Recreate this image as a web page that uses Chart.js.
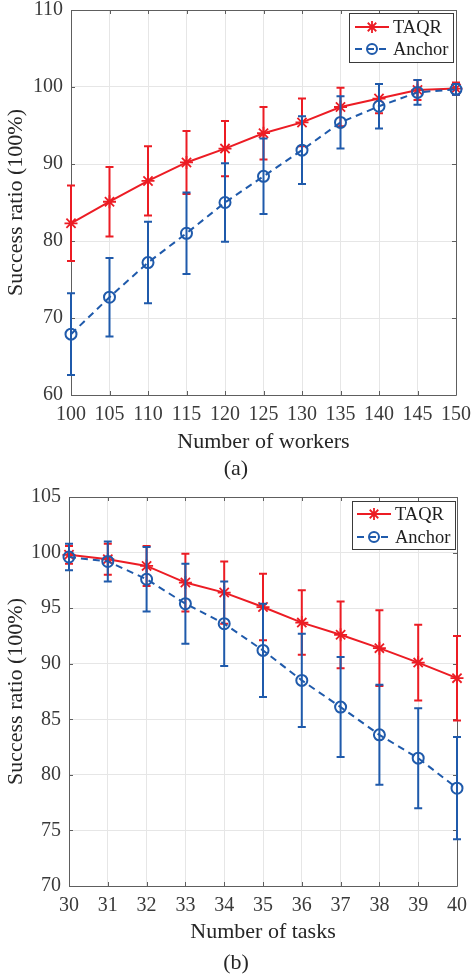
<!DOCTYPE html>
<html><head><meta charset="utf-8">
<script src="https://cdn.jsdelivr.net/npm/chart.js@4"></script>
<style>
html,body{margin:0;padding:0;background:#fff;width:472px;height:980px;overflow:hidden}
.wrap{position:absolute;left:0;width:472px}
.cap{position:absolute;left:0;width:472px;text-align:center;font-family:"Liberation Serif";font-size:22px;line-height:26px;color:#262626}
</style></head><body>
<div class="wrap" style="top:0;height:480px"><canvas id="ca" width="472" height="480" style="width:472px;height:480px"></canvas></div>
<div class="cap" style="top:455px">(a)</div>
<div class="wrap" style="top:480px;height:500px"><canvas id="cb" width="472" height="500" style="width:472px;height:500px"></canvas></div>
<div class="cap" style="top:949px">(b)</div>
<script>
// ---------- data ----------
const workers = [100,105,110,115,120,125,130,135,140,145,150];
const taqrA      = [82.3,85.1,87.8,90.2,92.0,94.0,95.4,97.4,98.5,99.6,99.8];
const taqrAErr   = [4.9,4.5,4.5,4.1,3.6,3.4,3.1,2.5,1.9,1.3,0.8];
const anchorA    = [67.9,72.7,77.2,81.0,85.0,88.4,91.8,95.4,97.5,99.3,99.7];
const anchorAErr = [5.3,5.1,5.3,5.3,5.1,4.9,4.4,3.4,2.9,1.6,0.7];
const yTicksA = [60,70,80,90,100,110];

const tasks = [30,31,32,33,34,35,36,37,38,39,40];
const taqrB      = [99.8,99.4,98.8,97.3,96.4,95.1,93.7,92.6,91.4,90.1,88.7];
const taqrBErr   = [0.8,1.4,1.8,2.6,2.8,3.0,2.9,3.0,3.4,3.4,3.8];
const anchorB    = [99.6,99.2,97.6,95.4,93.6,91.2,88.5,86.1,83.6,81.5,78.8];
const anchorBErr = [1.2,1.8,2.9,3.6,3.8,4.2,4.2,4.5,4.5,4.5,4.6];
const yTicksB = [70,75,80,85,90,95,100,105];

const seriesNames = ['TAQR','Anchor'];
const xTitleA = 'Number of workers';
const xTitleB = 'Number of tasks';
const yTitle = 'Success ratio (100%)';

// ---------- styles ----------
const RED = '#ec1c24';
const BLUE = '#1f5aab';
const FONT = 'Liberation Serif';
const TICKC = '#3a3a3a';

const errorBars = {
  id: 'errorBars',
  beforeDatasetDraw(chart, args) {
    const ds = chart.data.datasets[args.index];
    if (!ds.errors) return;
    const ys = chart.scales.y, ctx = chart.ctx, cap = 4;
    ctx.save();
    ctx.strokeStyle = ds.borderColor; ctx.lineWidth = 2; ctx.setLineDash([]);
    args.meta.data.forEach((pt, i) => {
      const v = ds.data[i].y, e = ds.errors[i], x = pt.x;
      const yt = ys.getPixelForValue(v + e), yb = ys.getPixelForValue(v - e);
      ctx.beginPath();
      ctx.moveTo(x, yt); ctx.lineTo(x, yb);
      ctx.moveTo(x - cap, yt); ctx.lineTo(x + cap, yt);
      ctx.moveTo(x - cap, yb); ctx.lineTo(x + cap, yb);
      ctx.stroke();
    });
    ctx.restore();
  }
};

const axesBox = {
  id: 'axesBox',
  beforeDatasetsDraw(chart) {
    const {ctx, chartArea: a, scales} = chart;
    ctx.save();
    ctx.strokeStyle = '#5e5e5e'; ctx.lineWidth = 1;
    ctx.beginPath();
    ctx.rect(Math.round(a.left) + 0.5, Math.round(a.top) + 0.5, Math.round(a.right - a.left), Math.round(a.bottom - a.top));
    ctx.stroke();
    const t = 4;
    ctx.beginPath();
    scales.x.ticks.forEach(tk => {
      const px = Math.round(scales.x.getPixelForValue(tk.value)) + 0.5;
      ctx.moveTo(px, a.bottom); ctx.lineTo(px, a.bottom - t);
      ctx.moveTo(px, a.top); ctx.lineTo(px, a.top + t);
    });
    scales.y.ticks.forEach(tk => {
      const py = Math.round(scales.y.getPixelForValue(tk.value)) + 0.5;
      ctx.moveTo(a.left, py); ctx.lineTo(a.left + t, py);
      ctx.moveTo(a.right, py); ctx.lineTo(a.right - t, py);
    });
    ctx.stroke();
    ctx.restore();
  }
};

const lineLegend = {
  id: 'lineLegend',
  afterDatasetsDraw(chart, args, o) {
    const ctx = chart.ctx;
    ctx.save();
    ctx.fillStyle = '#fff'; ctx.strokeStyle = '#3a3a3a'; ctx.lineWidth = 1;
    ctx.fillRect(o.x, o.y, o.w, o.h);
    ctx.strokeRect(o.x + 0.5, o.y + 0.5, o.w, o.h);
    chart.data.datasets.forEach((ds, i) => {
      const cy = o.rows[i];
      ctx.strokeStyle = ds.borderColor; ctx.lineWidth = 2;
      ctx.setLineDash(ds.borderDash || []);
      ctx.beginPath(); ctx.moveTo(o.lx0, cy); ctx.lineTo(o.lx1, cy); ctx.stroke();
      ctx.setLineDash([]);
      const mx = (o.lx0 + o.lx1) / 2;
      ctx.beginPath();
      if (ds.pointStyle === 'star') {
        const r = 6;
        for (let k = 0; k < 4; k++) {
          const ang = k * Math.PI / 4;
          ctx.moveTo(mx - r * Math.sin(ang), cy - r * Math.cos(ang));
          ctx.lineTo(mx + r * Math.sin(ang), cy + r * Math.cos(ang));
        }
        ctx.lineWidth = 1.8;
      } else {
        ctx.arc(mx, cy, 5, 0, Math.PI * 2);
        ctx.lineWidth = 2;
      }
      ctx.stroke();
      ctx.fillStyle = '#1e1e1e';
      ctx.font = '18.5px "' + FONT + '"';
      ctx.textBaseline = 'middle'; ctx.textAlign = 'left';
      ctx.fillText(ds.label, o.tx, cy + 1);
    });
    ctx.restore();
  }
};

function pts(xs, ys) { return xs.map((x, i) => ({x, y: ys[i]})); }

function makeChart(id, xs, t, tErr, an, anErr, yTicks, xTitle, L) {
  return new Chart(document.getElementById(id), {
    type: 'line',
    data: {
      datasets: [
        { label: seriesNames[0], data: pts(xs, t), errors: tErr, borderColor: RED, backgroundColor: RED,
          borderWidth: 2, pointStyle: 'star', pointRadius: 6.5, pointBorderWidth: 1.8,
          pointBorderColor: RED, pointBackgroundColor: RED, tension: 0, clip: false, order: 1 },
        { label: seriesNames[1], data: pts(xs, an), errors: anErr, borderColor: BLUE, backgroundColor: 'rgba(0,0,0,0)',
          borderWidth: 2, borderDash: [7, 5], pointStyle: 'circle', pointRadius: 5.5, pointBorderWidth: 2,
          pointBorderColor: BLUE, pointBackgroundColor: 'rgba(0,0,0,0)', tension: 0, clip: false, order: 0 }
      ]
    },
    options: {
      responsive: false, animation: false, devicePixelRatio: 1,
      layout: { padding: { left: 0, right: L.padR, top: L.padT, bottom: 0 } },
      plugins: { legend: { display: false }, tooltip: { enabled: false }, lineLegend: L.legend },
      scales: {
        x: {
          type: 'linear', min: xs[0], max: xs[xs.length - 1],
          afterBuildTicks: s => { s.ticks = xs.map(v => ({value: v})); },
          afterFit: s => { s.height = L.xH; s.paddingLeft = 0; s.paddingRight = 0; },
          grid: { color: '#e6e6e6', lineWidth: 1, drawTicks: false },
          border: { display: false },
          ticks: { color: TICKC, padding: 10, maxRotation: 0, autoSkip: false,
                   font: { family: FONT, size: 20, lineHeight: 1 } },
          title: { display: true, text: xTitle, color: '#262626',
                   font: { family: FONT, size: 22, lineHeight: 1.2 }, padding: { top: 0, bottom: L.xTitlePad } }
        },
        y: {
          type: 'linear', min: yTicks[0], max: yTicks[yTicks.length - 1],
          afterBuildTicks: s => { s.ticks = yTicks.map(v => ({value: v})); },
          afterFit: s => { s.width = L.yW; s.paddingTop = 0; s.paddingBottom = 0; },
          grid: { color: '#e6e6e6', lineWidth: 1, drawTicks: false },
          border: { display: false },
          ticks: { color: TICKC, padding: 8, font: { family: FONT, size: 20, lineHeight: 1 } },
          title: { display: true, text: yTitle, color: '#262626',
                   font: { family: FONT, size: 22, lineHeight: 1.2 }, padding: { top: 3, bottom: 0 } }
        }
      }
    },
    plugins: [axesBox, errorBars, lineLegend]
  });
}

makeChart('ca', workers, taqrA, taqrAErr, anchorA, anchorAErr, yTicksA, xTitleA, {
  padR: 16, padT: 10, xH: 85, yW: 71, xTitlePad: 25,
  legend: { x: 349, y: 13, w: 104, h: 49, rows: [27, 49], lx0: 355, lx1: 389, tx: 393 }
});
makeChart('cb', tasks, taqrB, taqrBErr, anchorB, anchorBErr, yTicksB, xTitleB, {
  padR: 15, padT: 17, xH: 94, yW: 69, xTitlePad: 35,
  legend: { x: 352, y: 21, w: 103, h: 48, rows: [34, 57], lx0: 357, lx1: 391, tx: 395 }
});
</script>
</body></html>
